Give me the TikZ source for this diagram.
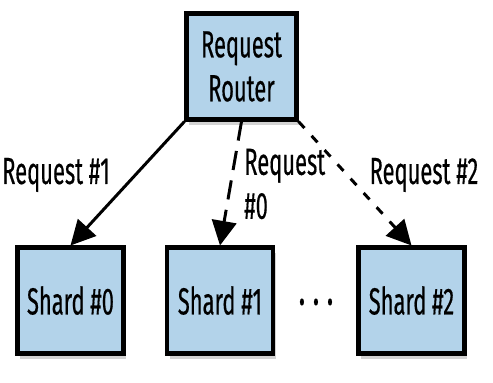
\documentclass[tikz,border=0pt]{standalone}
\usepackage{fontspec}
\setmainfont{Fira Sans}[FakeStretch=0.58, FakeBold=0.4]
\usepackage{tikz}
\usetikzlibrary{arrows.meta, positioning, shadows}

\definecolor{boxblue}{HTML}{B3D3EA}

\begin{document}
\begin{tikzpicture}[
    font=\fontsize{21.5}{25}\selectfont,
    box/.style={rectangle, draw=black, line width=2.3pt, fill=boxblue,
                minimum width=2.12cm, minimum height=2.12cm, align=center,
                drop shadow={opacity=0.35, shadow xshift=1.5pt, shadow yshift=-3pt}},
    req/.style={line width=1.7pt, -{Triangle[length=14pt, width=14pt]}},
    lbl/.style={align=left, inner sep=0pt}
]
\useasboundingbox (0,0) rectangle (9.86,7.64);

\node[box, minimum width=2.2cm] (router) at (4.83,6.31) {Request\\Router};
\node[box] (shard0) at (1.41,1.63) {Shard \#0};
\node[box] (shard1) at (4.40,1.63) {Shard \#1};
\node[box] (shard2) at (8.23,1.63) {Shard \#2};
\node (dots) at (6.32,1.60) {\textbf{.\hspace{5pt}.\hspace{5pt}.}};

\node[lbl] (lreq1) at (1.12,4.14) {Request \#1};
\node[lbl, anchor=west] (lreq0) at (4.88,3.96) {Request\\\#0};
\node[lbl] (lreq2) at (8.48,4.14) {Request \#2};

\draw[req] (router.south west) -- (shard0.north);
\draw[req, dash pattern=on 11pt off 6pt] (router.south) -- (shard1.north);
\draw[req, dash pattern=on 5pt off 6pt] (router.south east) -- (shard2.north);
\end{tikzpicture}
\end{document}
